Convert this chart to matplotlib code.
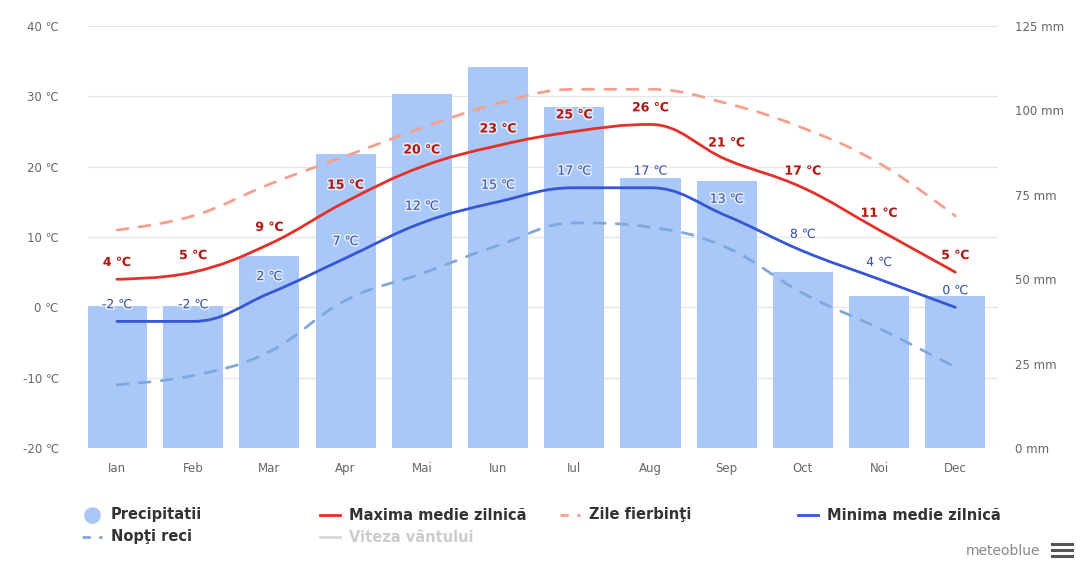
import matplotlib
matplotlib.use("Agg")
import matplotlib.pyplot as plt
import matplotlib.patheffects as pe
from matplotlib.path import Path
from matplotlib.patches import PathPatch
from matplotlib.lines import Line2D

months = ["Ian", "Feb", "Mar", "Apr", "Mai", "Iun", "Iul", "Aug", "Sep", "Oct", "Noi", "Dec"]
precip_mm = [42, 42, 57, 87, 105, 113, 101, 80, 79, 52, 45, 45]
temp_max = [4, 5, 9, 15, 20, 23, 25, 26, 21, 17, 11, 5]
temp_min = [-2, -2, 2, 7, 12, 15, 17, 17, 13, 8, 4, 0]
hot_days = [11, 13, 17.5, 21.5, 25.5, 29, 31, 31, 29, 25.5, 20.5, 13]
cold_nights = [-11, -9.7, -6.3, 1, 4.8, 8.8, 12, 11.4, 8.5, 2, -3, -8.5]
temp_ticks = [-20, -10, 0, 10, 20, 30, 40]
mm_ticks = [0, 25, 50, 75, 100, 125]

W, H = 1081, 561
plt.rcParams['font.family'] = ['DejaVu Sans']
fig = plt.figure(figsize=(W / 100, H / 100), dpi=100)


def spline_path(xs, ys, smoothing=1.5):
    # highcharts-style spline control points
    n = len(xs)
    ctrl = []
    for i in range(n):
        if i == 0 or i == n - 1:
            ctrl.append(((xs[i], ys[i]), (xs[i], ys[i])))
            continue
        d = smoothing + 1
        lx = (smoothing * xs[i] + xs[i - 1]) / d
        ly = (smoothing * ys[i] + ys[i - 1]) / d
        rx = (smoothing * xs[i] + xs[i + 1]) / d
        ry = (smoothing * ys[i] + ys[i + 1]) / d
        corr = (ry - ly) * (rx - xs[i]) / (rx - lx) + ys[i] - ry
        ly += corr
        ry += corr
        if ly > ys[i - 1] and ly > ys[i]:
            ly = max(ys[i - 1], ys[i]); ry = 2 * ys[i] - ly
        elif ly < ys[i - 1] and ly < ys[i]:
            ly = min(ys[i - 1], ys[i]); ry = 2 * ys[i] - ly
        if ry > ys[i + 1] and ry > ys[i]:
            ry = max(ys[i + 1], ys[i]); ly = 2 * ys[i] - ry
        elif ry < ys[i + 1] and ry < ys[i]:
            ry = min(ys[i + 1], ys[i]); ly = 2 * ys[i] - ry
        ctrl.append(((lx, ly), (rx, ry)))
    verts = [(xs[0], ys[0])]
    codes = [Path.MOVETO]
    for i in range(1, n):
        verts += [ctrl[i - 1][1], ctrl[i][0], (xs[i], ys[i])]
        codes += [Path.CURVE4] * 3
    return Path(verts, codes)


rect = [88 / W, 1 - 448 / H, 910 / W, 422 / H]
xs = list(range(len(months)))
xlim = (-0.38, 11.56)

# temperature axis with grid (bottom layer)
ax = fig.add_axes(rect)
ax.set_xlim(*xlim)
ax.set_ylim(-20, 40)
ax.set_yticks(temp_ticks)
ax.set_yticklabels([f"{t} ℃" for t in temp_ticks])
ax.set_xticks(xs)
ax.set_xticklabels(months)
ax.grid(axis='y', color='#e6e6e6', lw=1)
ax.tick_params(length=0, colors='#666666', labelsize=8.5)
ax.tick_params(axis='y', pad=21)
ax.tick_params(axis='x', pad=10)
for s in ax.spines.values():
    s.set_visible(False)

# precipitation bars
axp = fig.add_axes(rect, sharex=ax)
axp.patch.set_visible(False)
axp.bar(xs, precip_mm, width=0.79, color='#a9c8f7', zorder=1)
axp.set_ylim(0, 125)
axp.set_yticks(mm_ticks)
axp.set_yticklabels([f"{m} mm" for m in mm_ticks])
axp.yaxis.tick_right()
axp.tick_params(length=0, colors='#666666', labelsize=8.5)
axp.tick_params(axis='y', pad=12)
axp.tick_params(axis='x', labelbottom=False)
for s in axp.spines.values():
    s.set_visible(False)

# lines on top
axl = fig.add_axes(rect, sharex=ax, sharey=ax)
axl.patch.set_visible(False)
axl.axis('off')

series = [
    (hot_days, '#f5a08e', (0, (4, 4)), 2),
    (cold_nights, '#7fa8dc', (0, (4, 4)), 2),
    (temp_max, '#e3302a', '-', 2),
    (temp_min, '#3457d5', '-', 2),
]
for vals, col, ls, lw in series:
    axl.add_patch(PathPatch(spline_path(xs, vals), fill=False, edgecolor=col,
                            linestyle=ls, lw=lw, capstyle='round'))

halo = [pe.withStroke(linewidth=2.5, foreground='white', alpha=0.6)]
for x, v in zip(xs, temp_max):
    axl.annotate(f"{v} ℃", (x, v), xytext=(0, 12), textcoords='offset points',
                 ha='center', va='center', fontsize=9, color='#b01a12',
                 fontweight='bold', path_effects=halo)
for x, v in zip(xs, temp_min):
    axl.annotate(f"{v} ℃", (x, v), xytext=(0, 12), textcoords='offset points',
                 ha='center', va='center', fontsize=9, color='#3d55a6',
                 path_effects=halo)


# legend, highcharts style
def fx(px):
    return px / W


def fy(py):
    return 1 - py / H


legend_items = [
    ('marker', '#a9c8f7', None, 'Precipitatii', 92, 515, '#333333'),
    ('line', '#e3302a', '-', 'Maxima medie zilnică', 330, 515, '#333333'),
    ('line', '#f5a08e', (0, (3, 3)), 'Zile fierbinţi', 570, 515, '#333333'),
    ('line', '#3457d5', '-', 'Minima medie zilnică', 808, 515, '#333333'),
    ('line', '#7fa8dc', (0, (3, 3)), 'Nopţi reci', 92, 537, '#333333'),
    ('line', '#d8d8d8', '-', 'Viteza vântului', 330, 537, '#cccccc'),
]
for kind, col, ls, label, cx, cy, tcol in legend_items:
    if kind == 'marker':
        fig.add_artist(Line2D([fx(cx)], [fy(cy)], marker='o', ms=11,
                              color=col, transform=fig.transFigure))
    else:
        fig.add_artist(Line2D([fx(cx - 10), fx(cx + 10)], [fy(cy), fy(cy)],
                              color=col, ls=ls, lw=2, transform=fig.transFigure))
    fig.text(fx(cx + 19), fy(cy), label, ha='left', va='center', fontsize=10.5,
             fontweight='bold', color=tcol)

fig.text(fx(1040), fy(551), 'meteoblue', ha='right', va='center',
         fontsize=10, color='#888888')
for dy in (-6, 0, 6):
    fig.add_artist(Line2D([fx(1052), fx(1072)], [fy(550 + dy)] * 2, lw=2.2,
                          color='#555555', transform=fig.transFigure))

fig.savefig('out.png', dpi=100, facecolor='white')
